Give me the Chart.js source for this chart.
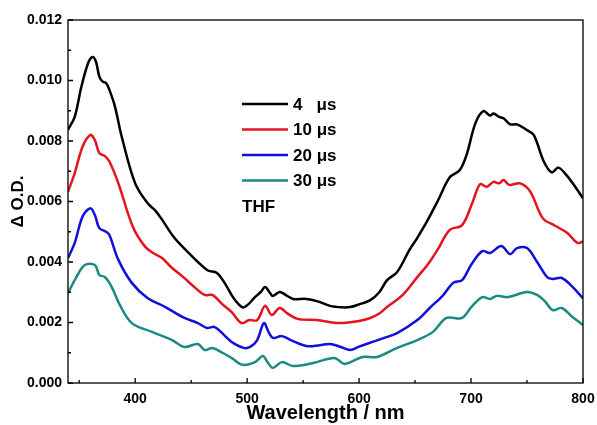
<!DOCTYPE html>
<html>
<head>
<meta charset="utf-8">
<script src="https://cdn.jsdelivr.net/npm/chart.js@4"></script>
<style>
  html, body { margin: 0; padding: 0; background: #fff; }
  #wrap { position: relative; width: 597px; height: 425px; }
</style>
</head>
<body>
<div id="wrap"><canvas id="c" width="597" height="425"></canvas></div>
<script>
// series labels + colours
const seriesLabels = ['4   \u03bcs', '10 \u03bcs', '20 \u03bcs', '30 \u03bcs'];
const seriesColors = ['#000000', '#e3141c', '#1010d8', '#1a8a82'];
const solventLabel = 'THF';

// 4 us
const wave4 = [340, 346, 352, 358, 362, 365, 368, 371, 374, 377, 382, 388, 400, 411, 418, 424, 435, 447, 456, 465, 473, 480, 488, 496, 501, 507, 512, 516, 520, 523, 529, 535, 541, 553, 563, 574, 585, 592, 600, 610, 618, 625, 634, 645, 652, 660, 670, 681, 690, 696, 704, 711, 717, 720, 725, 729, 735, 741, 750, 756, 765, 772, 778, 785, 793, 799, 800];
const od4 = [0.00837, 0.0088, 0.0098, 0.01058, 0.01078, 0.01062, 0.01013, 0.00996, 0.00992, 0.00969, 0.00913, 0.00814, 0.0066, 0.00595, 0.0057, 0.0054, 0.0048, 0.00433, 0.0040, 0.00372, 0.00364, 0.0033, 0.0028, 0.0025, 0.0026, 0.00284, 0.0030, 0.00317, 0.0030, 0.00288, 0.00301, 0.0029, 0.00278, 0.00278, 0.0027, 0.00255, 0.0025, 0.00251, 0.0026, 0.00274, 0.0030, 0.0034, 0.00367, 0.0044, 0.0048, 0.0053, 0.0060, 0.0068, 0.00704, 0.00754, 0.0086, 0.00899, 0.00884, 0.00891, 0.0088, 0.00875, 0.00855, 0.00855, 0.00836, 0.0082, 0.00732, 0.00696, 0.00712, 0.00688, 0.00649, 0.00616, 0.0061];

// 10 us
const wave10 = [340, 346, 353, 360, 364, 368, 373, 377, 385, 398, 409, 416, 424, 433, 443, 452, 462, 469, 478, 486, 495, 502, 509, 516, 522, 529, 536, 545, 562, 583, 600, 610, 618, 625, 639, 652, 661, 670, 681, 692, 701, 708, 714, 720, 725, 729, 734, 744, 753, 764, 775, 786, 795, 800];
const od10 = [0.00632, 0.00694, 0.00781, 0.0082, 0.00803, 0.0076, 0.0075, 0.00732, 0.0066, 0.00516, 0.0045, 0.0043, 0.00413, 0.0038, 0.0035, 0.0032, 0.00291, 0.00291, 0.0026, 0.00235, 0.00198, 0.00208, 0.00208, 0.00255, 0.00225, 0.00248, 0.0023, 0.00212, 0.00208, 0.00198, 0.00205, 0.00215, 0.0023, 0.00251, 0.00291, 0.0035, 0.0039, 0.0044, 0.00506, 0.00522, 0.00594, 0.00657, 0.00649, 0.00665, 0.0066, 0.00671, 0.00655, 0.0066, 0.00632, 0.00545, 0.0052, 0.00496, 0.00463, 0.00468];

// 20 us
const wave20 = [340, 346, 353, 360, 364, 368, 374, 377, 385, 397, 411, 427, 444, 456, 464, 471, 479, 486, 497, 503, 509, 515, 519, 523, 531, 540, 553, 565, 574, 583, 592, 600, 612, 623, 634, 652, 663, 675, 684, 692, 700, 710, 717, 727, 735, 741, 750, 759, 768, 773, 781, 790, 800];
const od20 = [0.00413, 0.00463, 0.0055, 0.00578, 0.00555, 0.00512, 0.0050, 0.00489, 0.00407, 0.00331, 0.00281, 0.00251, 0.00215, 0.00198, 0.00182, 0.00185, 0.0016, 0.00136, 0.00116, 0.0012, 0.00142, 0.00198, 0.0017, 0.00149, 0.00155, 0.0014, 0.00122, 0.00125, 0.00129, 0.0012, 0.00109, 0.0012, 0.00136, 0.0015, 0.00165, 0.00208, 0.00248, 0.0029, 0.00331, 0.0034, 0.0039, 0.00436, 0.0043, 0.00453, 0.00426, 0.00446, 0.00446, 0.0040, 0.0035, 0.00344, 0.00347, 0.0032, 0.0028];

// 30 us
const wave30 = [340, 347, 355, 364, 368, 373, 379, 386, 397, 415, 433, 444, 456, 462, 469, 478, 486, 496, 507, 514, 518, 523, 531, 541, 559, 578, 587, 603, 616, 634, 652, 666, 678, 692, 700, 710, 717, 723, 733, 750, 759, 766, 773, 781, 790, 800];
const od30 = [0.00297, 0.00347, 0.0039, 0.0039, 0.00357, 0.0035, 0.00318, 0.0026, 0.00198, 0.00169, 0.00142, 0.00119, 0.00129, 0.00109, 0.00116, 0.0010, 0.00083, 0.0006, 0.00069, 0.00089, 0.0007, 0.0005, 0.00069, 0.00056, 0.00066, 0.00083, 0.00063, 0.00086, 0.00086, 0.00116, 0.00142, 0.00169, 0.00215, 0.00215, 0.0025, 0.00284, 0.00278, 0.00288, 0.00284, 0.00301, 0.00291, 0.0027, 0.00241, 0.00248, 0.0022, 0.00192];

// axes
const xMin = 340, xMax = 800;
const xMajorTicks = [400, 500, 600, 700, 800];
const xMinorTicks = [350, 450, 550, 650, 750];
const yMin = 0, yMax = 0.012;
const yMajorTicks = [0, 0.002, 0.004, 0.006, 0.008, 0.010, 0.012];
const yMinorTicks = [0.001, 0.003, 0.005, 0.007, 0.009, 0.011];

const FONT = 'Arial, "Liberation Sans", sans-serif';

const toPoints = (xs, ys) => xs.map((x, i) => ({ x, y: ys[i] }));
const allWaves = [wave4, wave10, wave20, wave30];
const allOD = [od4, od10, od20, od30];

// frame + inward ticks + in-plot legend
const FrameAndLegend = {
  id: 'frameAndLegend',
  afterDatasetsDraw(chart) {
    const { ctx, chartArea: a, scales } = chart;
    const xs = scales.x, ys = scales.y;
    ctx.save();
    ctx.strokeStyle = '#000';
    ctx.lineWidth = 1.3;
    ctx.strokeRect(a.left, a.top, a.right - a.left, a.bottom - a.top);

    ctx.beginPath();
    xMajorTicks.forEach((v) => {
      const px = xs.getPixelForValue(v);
      ctx.moveTo(px, a.bottom); ctx.lineTo(px, a.bottom - 5);
    });
    xMinorTicks.forEach((v) => {
      const px = xs.getPixelForValue(v);
      ctx.moveTo(px, a.bottom); ctx.lineTo(px, a.bottom - 3);
    });
    yMajorTicks.forEach((v) => {
      const py = ys.getPixelForValue(v);
      ctx.moveTo(a.left, py); ctx.lineTo(a.left + 5, py);
    });
    yMinorTicks.forEach((v) => {
      const py = ys.getPixelForValue(v);
      ctx.moveTo(a.left, py); ctx.lineTo(a.left + 3, py);
    });
    ctx.stroke();

    // legend (inside plot)
    const lx = 242, lineLen = 46, rowH = 25.5, top = 104;
    ctx.font = 'bold 17px ' + FONT;
    ctx.textBaseline = 'middle';
    ctx.textAlign = 'left';
    seriesLabels.forEach((lbl, i) => {
      const y = top + i * rowH;
      ctx.strokeStyle = seriesColors[i];
      ctx.lineWidth = 2.5;
      ctx.beginPath();
      ctx.moveTo(lx, y); ctx.lineTo(lx + lineLen, y);
      ctx.stroke();
      ctx.fillStyle = '#000';
      ctx.fillText(lbl, lx + lineLen + 5, y + 1);
    });
    ctx.fillText(solventLabel, lx, top + 4 * rowH + 1);
    ctx.restore();
  }
};

const config = {
  type: 'line',
  data: {
    datasets: seriesLabels.map((lbl, i) => ({
      label: lbl,
      data: toPoints(allWaves[i], allOD[i]),
      borderColor: seriesColors[i],
      borderWidth: 2.5,
      pointRadius: 0,
      fill: false,
      tension: 0.35,
    })),
  },
  options: {
    responsive: false,
    animation: false,
    layout: { padding: { left: 0, top: 20, right: 14, bottom: 0 } },
    plugins: {
      legend: { display: false },
      tooltip: { enabled: false },
    },
    scales: {
      x: {
        type: 'linear',
        min: xMin,
        max: xMax,
        afterFit: (s) => { s.height = 42; s.paddingLeft = 0; s.paddingRight = 0; },
        afterBuildTicks: (s) => { s.ticks = xMajorTicks.map((v) => ({ value: v })); },
        grid: { display: false, drawTicks: false },
        border: { display: false },
        ticks: {
          padding: 8,
          color: '#000',
          font: { family: FONT, size: 14, weight: 'bold' },
          maxRotation: 0,
        },
        title: {
          display: true,
          text: 'Wavelength / nm',
          color: '#000',
          font: { family: FONT, size: 20, weight: 'bold' },
          padding: { top: 0, bottom: 0 },
        },
      },
      y: {
        type: 'linear',
        min: yMin,
        max: yMax,
        afterFit: (s) => { s.width = 68; s.paddingTop = 0; s.paddingBottom = 0; },
        afterBuildTicks: (s) => { s.ticks = yMajorTicks.map((v) => ({ value: v })); },
        grid: { display: false, drawTicks: false },
        border: { display: false },
        ticks: {
          padding: 6,
          color: '#000',
          font: { family: FONT, size: 14, weight: 'bold' },
          callback: (v) => Number(v).toFixed(3),
        },
        title: {
          display: true,
          text: '\u0394 O.D.',
          color: '#000',
          font: { family: FONT, size: 17, weight: 'bold' },
          padding: { top: 8, bottom: 0 },
        },
      },
    },
  },
  plugins: [FrameAndLegend],
};

new Chart(document.getElementById('c').getContext('2d'), config);
</script>
</body>
</html>
